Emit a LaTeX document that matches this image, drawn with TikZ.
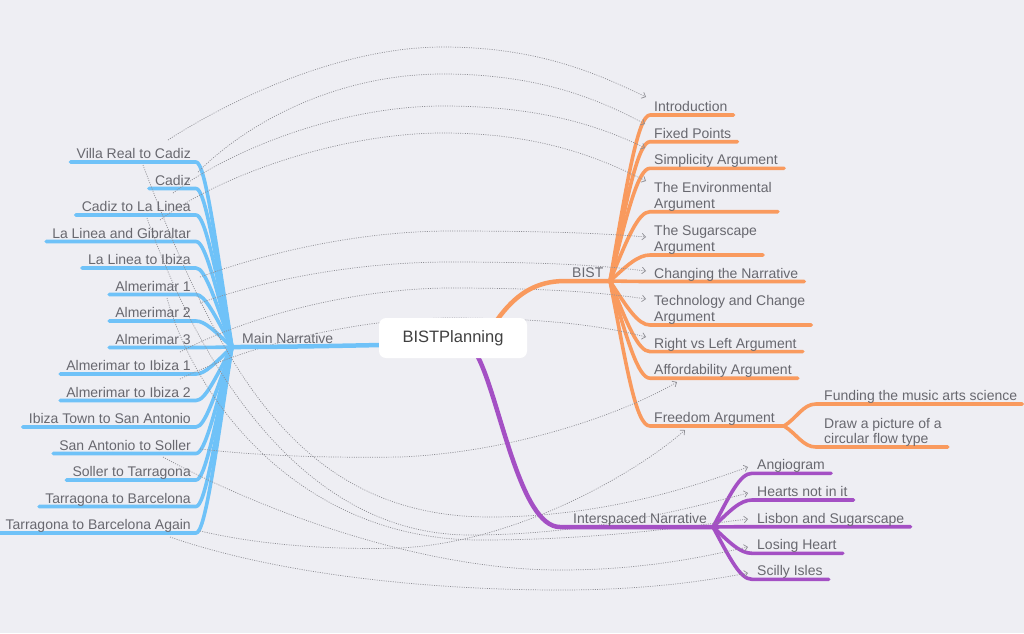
\documentclass[tikz,border=0pt]{standalone}
\usepackage{fontspec}
\setmainfont{Liberation Sans}
\usetikzlibrary{arrows.meta,calc}
\definecolor{bgc}{HTML}{EEEEF3}
\definecolor{mblue}{HTML}{6FC2F8}
\definecolor{morange}{HTML}{F99A5E}
\definecolor{mpurple}{HTML}{A450C4}
\definecolor{txt}{HTML}{68686F}
\definecolor{lnk}{HTML}{8E8E94}
\pgfdeclarelayer{back}
\pgfsetlayers{back,main}
\begin{document}
\begin{tikzpicture}[x=1pt,y=-1pt,
  lab/.style={font=\fontsize{14}{15.6}\selectfont, text=txt, inner sep=0pt},
  mlab/.style={lab, align=left},
  bl/.style={draw=mblue, line width=3.6pt, line cap=round, line join=round},
  ol/.style={draw=morange, line width=3.6pt, line cap=round, line join=round},
  pl/.style={draw=mpurple, line width=3.6pt, line cap=round, line join=round},
  link/.style={draw=lnk, line width=0.7pt, dash pattern=on 1pt off 1.3pt,
    -{Straight Barb[length=3.5pt,width=6.5pt,line width=0.7pt]}}]
\begin{pgfonlayer}{back}
\fill[bgc] (0,0) rectangle (1024,633);
\end{pgfonlayer}
\useasboundingbox (0,0) rectangle (1024,633);

% central topic
\node[fill=white, rounded corners=7pt, minimum width=148pt, minimum height=40pt, inner sep=0pt,
  font=\fontsize{16.5}{18}\selectfont, text={black!75}] (root) at (453,338) {BISTPlanning};

% hubs and attach points
\coordinate (hubM) at (232,347);
\coordinate (hubB) at (610,281);
\coordinate (hubF) at (784,426);
\coordinate (hubI) at (713,527);
\coordinate (rootL) at (381,345);
\coordinate (rootT) at (497,320);
\coordinate (rootB) at (478,357);

% main labels
\node[lab, anchor=base west] (mn) at (242,343.6) {Main Narrative};
\node[lab, anchor=base west] (bist) at (572,277.6) {BIST};
\node[lab, anchor=base west] (isn) at (573,523.3) {Interspaced Narrative};

% blue children
\foreach \k/\t in {0/Villa Real to Cadiz,1/Cadiz,2/Cadiz to La Linea,3/La Linea and Gibraltar,
  4/La Linea to Ibiza,5/Almerimar 1,6/Almerimar 2,7/Almerimar 3,8/Almerimar to Ibiza 1,
  9/Almerimar to Ibiza 2,10/Ibiza Town to San Antonio,11/San Antonio to Soller,
  12/Soller to Tarragona,13/Tarragona to Barcelona,14/Tarragona to Barcelona Again}{
  \pgfmathsetmacro\yy{162+26.5*\k}
  \node[lab, anchor=base east] (mainc\k) at (191,\yy-3.4) {\t};
  \begin{pgfonlayer}{back}
  \draw[bl] (hubM) .. controls (215,{\yy+(347-\yy)*0.4}) and (205,\yy) .. (196,\yy)
     -- ($(mainc\k.west |- 0,\yy)+(-6,0)$);
  \end{pgfonlayer}
}

% orange children (single line)
\foreach \n/\yy/\t in {1/115/Introduction,2/141.7/Fixed Points,3/168.3/Simplicity Argument,
  6/281.5/Changing the Narrative,8/351.6/Right vs Left Argument,9/378.2/Affordability Argument}{
  \node[lab, anchor=base west] (bistc\n) at (654,\yy-3.4) {\t};
  \begin{pgfonlayer}{back}
  \draw[ol] (hubB) .. controls (627,{\yy+(281-\yy)*0.4}) and (638,\yy) .. (650,\yy)
     -- ($(bistc\n.east |- 0,\yy)+(6,0)$);
  \end{pgfonlayer}
}
% orange children (two lines)
\foreach \n/\yy/\t in {4/211.7/{The Environmental\\Argument},5/255/{The Sugarscape\\Argument},
  7/325/{Technology and Change\\Argument}}{
  \node[mlab, anchor=south west] (bistc\n) at (654,\yy-0.5) {\t};
  \begin{pgfonlayer}{back}
  \draw[ol] (hubB) .. controls (627,{\yy+(281-\yy)*0.4}) and (638,\yy) .. (650,\yy)
     -- ($(bistc\n.east |- 0,\yy)+(6,0)$);
  \end{pgfonlayer}
}
% freedom argument
\node[lab, anchor=base west] (bistc10) at (654,422.6) {Freedom Argument};
\node[lab, anchor=base west] (frc1) at (824,400.6) {Funding the music arts science};
\node[mlab, anchor=south west] (frc2) at (824,446.8) {Draw a picture of a\\circular flow type};
\begin{pgfonlayer}{back}
\draw[ol] (hubB) .. controls (627,369) and (636,426) .. (650,426) -- (hubF);
\draw[ol] (hubF) .. controls (797,418) and (803,404) .. (816,404) -- ($(frc1.east |- 0,404)+(5,0)$);
\draw[ol] (hubF) .. controls (797,434) and (803,447) .. (816,447) -- ($(frc2.east |- 0,447)+(6,0)$);
\end{pgfonlayer}

% purple children
\foreach \n/\yy/\t in {1/473.3/Angiogram,2/500/Hearts not in it,3/526.7/Lisbon and Sugarscape,
  4/553.3/Losing Heart,5/579.3/Scilly Isles}{
  \node[lab, anchor=base west] (isc\n) at (757,\yy-3.4) {\t};
  \begin{pgfonlayer}{back}
  \draw[pl] (hubI) .. controls (730,{\yy+(527-\yy)*0.4}) and (740,\yy) .. (752,\yy)
     -- ($(isc\n.east |- 0,\yy)+(6,0)$);
  \end{pgfonlayer}
}

\begin{pgfonlayer}{back}
% dotted links
\coordinate (s1) at (168,140);  \coordinate (t1) at (646,97);
\coordinate (s2) at (198,172);  \coordinate (t2) at (645,124);
\coordinate (s3) at (173,193);  \coordinate (t3) at (645,148);
\coordinate (s4) at (160,220);  \coordinate (t4) at (646,181);
\coordinate (s5) at (200,277);  \coordinate (t5) at (646,237);
\coordinate (s6) at (200,303);  \coordinate (t6) at (646,271);
\coordinate (s7) at (180,352);  \coordinate (t7) at (646,299);
\coordinate (s8) at (180,379);  \coordinate (t8) at (646,337);
\coordinate (s9) at (200,449);  \coordinate (t9) at (677,382);
\coordinate (s10) at (200,531); \coordinate (t10) at (685,430);
\coordinate (s11) at (143,165); \coordinate (t11) at (748,467);
\coordinate (s12) at (147,218); \coordinate (t12) at (748,493);
\coordinate (s13) at (167,298); \coordinate (t13) at (748,519);
\coordinate (s14) at (163,457); \coordinate (t14) at (748,547);
\coordinate (s15) at (170,537); \coordinate (t15) at (748,573);
\draw[link] (s1) .. controls (230,100) and (340,47) .. (443,47) .. controls (540,47) and (600,75) .. (t1);
\draw[link] (s2) .. controls (250,120) and (340,74) .. (443,74) .. controls (540,74) and (600,100) .. (t2);
\draw[link] (s3) .. controls (230,150) and (340,106) .. (443,106) .. controls (540,106) and (600,126) .. (t3);
\draw[link] (s4) .. controls (220,175) and (340,133) .. (443,133) .. controls (540,133) and (600,158) .. (t4);
\draw[link] (s5) .. controls (280,248) and (370,231) .. (450,231) .. controls (540,231) and (600,233) .. (t5);
\draw[link] (s6) .. controls (280,275) and (370,262) .. (450,262) .. controls (540,262) and (600,265) .. (t6);
\draw[link] (s7) .. controls (260,310) and (370,288) .. (450,288) .. controls (540,288) and (600,292) .. (t7);
\draw[link] (s8) .. controls (260,340) and (370,318) .. (450,318) .. controls (540,318) and (600,325) .. (t8);
\draw[link] (s9) .. controls (260,456) and (330,458) .. (400,457) .. controls (520,452) and (630,410) .. (t9);
\draw[link] (s10) .. controls (260,545) and (330,550) .. (400,548) .. controls (520,542) and (640,470) .. (t10);
\draw[link] (s11) .. controls (220,370) and (300,517) .. (490,517) .. controls (600,517) and (690,488) .. (t11);
\draw[link] (s12) .. controls (190,340) and (290,535) .. (470,535) .. controls (590,535) and (690,508) .. (t12);
\draw[link] (s13) .. controls (195,400) and (300,540) .. (480,540) .. controls (600,540) and (690,526) .. (t13);
\draw[link] (s14) .. controls (260,510) and (420,570) .. (560,570) .. controls (650,570) and (710,555) .. (t14);
\draw[link] (s15) .. controls (280,575) and (430,590) .. (560,590) .. controls (650,590) and (710,580) .. (t15);
% main branches
\draw[bl, line width=4.5pt] (rootL) .. controls (330,346) and (280,347) .. (hubM);
\draw[ol, line width=4.5pt] (rootT) .. controls (515,295) and (535,281) .. (565,281) -- (hubB);
\draw[pl, line width=4.5pt] (rootB) .. controls (500,400) and (520,527) .. (560,527) -- (hubI);
\end{pgfonlayer}
\end{tikzpicture}
\end{document}
